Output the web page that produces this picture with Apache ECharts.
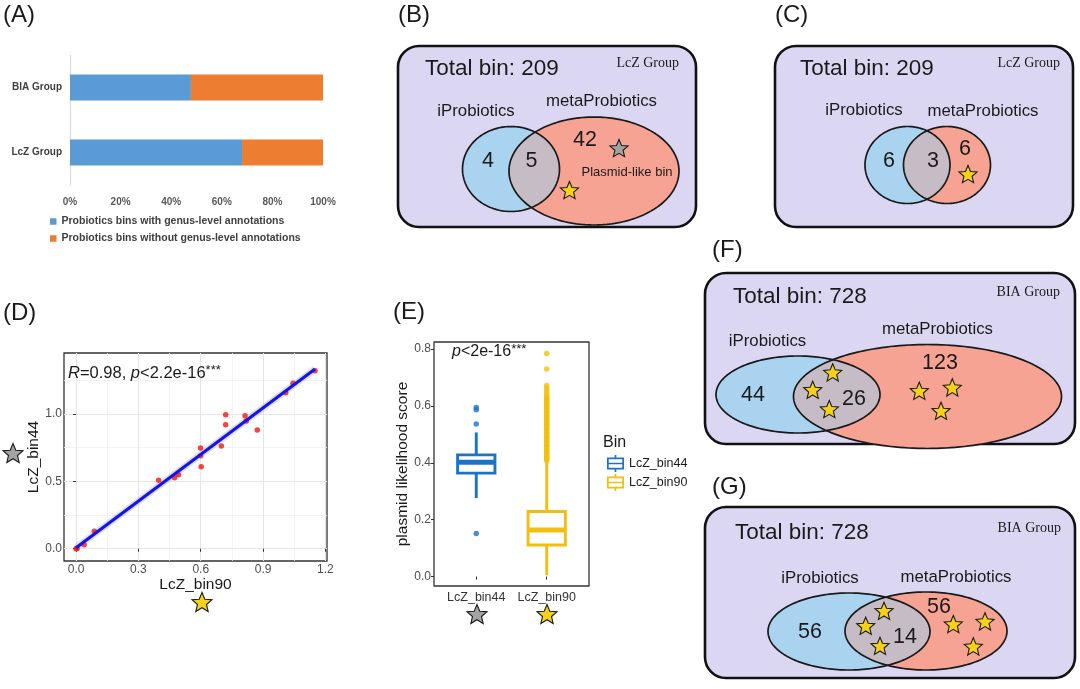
<!DOCTYPE html>
<html><head><meta charset="utf-8">
<script src="https://cdn.jsdelivr.net/npm/echarts@6/dist/echarts.min.js"></script>
<style>html,body{margin:0;padding:0;background:#fff}#c{width:1080px;height:689px}</style>
</head><body><div id="c"></div>
<script>
// ---------- Panel A data ----------
const groupsA = ['LcZ Group', 'BIA Group'];
const withGenus = [68.0, 47.8];
const withoutGenus = [32.0, 52.2];
const legendA = ['Probiotics bins with genus-level annotations', 'Probiotics bins without genus-level annotations'];

// ---------- Panel D data ----------
const bin90 = [0.000, 0.005, 0.039, 0.088, 0.397, 0.474, 0.493, 0.599, 0.600, 0.602, 0.699, 0.720, 0.720, 0.813, 0.819, 0.872, 1.009, 1.044, 1.150];
const bin44 = [0.000, 0.002, 0.030, 0.129, 0.508, 0.527, 0.549, 0.748, 0.690, 0.609, 0.762, 0.995, 0.921, 0.987, 0.948, 0.881, 1.158, 1.228, 1.321];
const dXTicks = [0, 0.3, 0.6, 0.9, 1.2];
const dYTicks = [0, 0.5, 1.0];

// ---------- Panel E data ----------
const boxCats = ['LcZ_bin44', 'LcZ_bin90'];
const box44 = [0.276, 0.364, 0.402, 0.428, 0.507];   // low, Q1, median, Q3, high
const box90 = [0.005, 0.111, 0.164, 0.229, 0.405];
const out44 = [0.595, 0.587, 0.537, 0.152];
const out90 = [0.408, 0.412, 0.418, 0.421, 0.427, 0.433, 0.436, 0.442, 0.447, 0.452, 0.458, 0.461, 0.467, 0.473, 0.476, 0.482, 0.488, 0.491, 0.497, 0.503, 0.506, 0.512, 0.518, 0.521, 0.527, 0.532, 0.536, 0.542, 0.547, 0.551, 0.557, 0.562, 0.566, 0.572, 0.577, 0.581, 0.587, 0.592, 0.596, 0.602, 0.607, 0.611, 0.617, 0.622, 0.626, 0.631, 0.636, 0.645, 0.655, 0.663, 0.672, 0.730, 0.785];
const eYTicks = [0, 0.2, 0.4, 0.6, 0.8];

// ---------- Venn data: [iProbiotics only, shared, metaProbiotics only] ----------
const vennB = [4, 5, 42];
const vennC = [6, 3, 6];
const vennF = [44, 26, 123];
const vennG = [56, 14, 56];
const totalBins = [209, 209, 728, 728];
const vennGroups = ['LcZ Group', 'LcZ Group', 'BIA Group', 'BIA Group'];

const SANS = 'Liberation Sans, Arial, sans-serif';
const SERIF = 'Liberation Serif, Times New Roman, serif';
const C44 = '#1c73c4', C90 = '#f0bf10';

// ---------- helpers ----------
const G = [];
function txt(x, y, text, o) {
  o = o || {};
  G.push({
    type: 'text', x: x, y: y, z: o.z || 10,
    style: {
      text: text, fill: o.fill || '#1a1a1a',
      fontSize: o.size || 16, fontFamily: o.family || SANS, fontWeight: o.weight || 'normal',
      align: o.align || 'left', textAlign: o.align || 'left',
      verticalAlign: 'middle', textVerticalAlign: 'middle', rich: o.rich
    }
  });
}
function ellPts(e, n) {
  n = n || 180; const p = [];
  for (let k = 0; k < n; k++) { const a = 2 * Math.PI * k / n; p.push([e.cx + e.rx * Math.cos(a), e.cy + e.ry * Math.sin(a)]); }
  return p;
}
function inside(p, e) { const dx = (p[0] - e.cx) / e.rx, dy = (p[1] - e.cy) / e.ry; return dx * dx + dy * dy <= 1; }
function interPts(e1, e2) {
  const pts = ellPts(e1, 360).filter(p => inside(p, e2)).concat(ellPts(e2, 360).filter(p => inside(p, e1)));
  let mx = 0, my = 0; pts.forEach(p => { mx += p[0]; my += p[1]; }); mx /= pts.length; my /= pts.length;
  pts.sort((a, b) => Math.atan2(a[1] - my, a[0] - mx) - Math.atan2(b[1] - my, b[0] - mx));
  return pts;
}
function star(cx, cy, R, fill) {
  const p = [];
  for (let k = 0; k < 10; k++) { const a = -Math.PI / 2 + k * Math.PI / 5; const r = k % 2 ? R * 0.45 : R; p.push([cx + r * Math.cos(a), cy + r * Math.sin(a)]); }
  G.push({ type: 'polygon', z: 12, shape: { points: p }, style: { fill: fill, stroke: '#1a1a1a', lineWidth: 1.1 } });
}
function venn(idx, counts, L) {
  const b = L.box;
  G.push({ type: 'rect', z: 1, shape: { x: b[0], y: b[1], width: b[2], height: b[3], r: 21 }, style: { fill: '#dbd7f3', stroke: '#111', lineWidth: 2.6 } });
  txt(L.total[0], L.total[1], 'Total bin: ' + totalBins[idx], { size: 22.5 });
  txt(L.group[0], L.group[1], vennGroups[idx], { size: 14, family: SERIF, align: 'right' });
  txt(L.iName[0], L.iName[1], 'iProbiotics', { size: 16.8, align: 'center' });
  txt(L.mName[0], L.mName[1], 'metaProbiotics', { size: 16.8, align: 'center' });
  const e1 = L.blue, e2 = L.red;
  G.push({ type: 'polygon', z: 2, shape: { points: ellPts(e1) }, style: { fill: '#a9d3ef' } });
  G.push({ type: 'polygon', z: 3, shape: { points: ellPts(e2) }, style: { fill: '#f7a394' } });
  G.push({ type: 'polygon', z: 4, shape: { points: interPts(e1, e2) }, style: { fill: '#c5bcc6' } });
  G.push({ type: 'polygon', z: 5, shape: { points: ellPts(e1) }, style: { fill: null, stroke: '#1a1a1a', lineWidth: 1.7 } });
  G.push({ type: 'polygon', z: 5, shape: { points: ellPts(e2) }, style: { fill: null, stroke: '#1a1a1a', lineWidth: 1.7 } });
  txt(L.n[0][0], L.n[0][1], String(counts[0]), { size: 21.5, align: 'center' });
  txt(L.n[1][0], L.n[1][1], String(counts[1]), { size: 21.5, align: 'center' });
  txt(L.n[2][0], L.n[2][1], String(counts[2]), { size: 21.5, align: 'center' });
  (L.stars || []).forEach(s => star(s[0], s[1], 9.5, s[2] || '#f7d117'));
}

// panel letters
txt(3, 15, '(A)', { size: 24 });
txt(398, 15, '(B)', { size: 24 });
txt(775, 15, '(C)', { size: 24 });
txt(3, 313, '(D)', { size: 24 });
txt(393, 312, '(E)', { size: 24 });
txt(712, 250, '(F)', { size: 24 });
txt(712, 487, '(G)', { size: 24 });

// Venn panels
venn(0, vennB, {
  box: [398, 46, 298, 181], total: [425, 69], group: [679, 63], iName: [476, 111.5], mName: [601.5, 101],
  blue: { cx: 511, cy: 169, rx: 48.5, ry: 42.5 }, red: { cx: 594, cy: 171, rx: 85, ry: 54 },
  n: [[488, 161], [531.5, 161], [585, 140]],
  stars: [[619, 149, '#a3a3a3'], [569.5, 191]]
});
txt(627, 172, 'Plasmid-like bin', { size: 13, align: 'center', z: 11 });
venn(1, vennC, {
  box: [775, 46, 298, 181], total: [800, 69], group: [1060, 63], iName: [864, 110], mName: [983, 111.5],
  blue: { cx: 907.5, cy: 165, rx: 42.5, ry: 38.5 }, red: { cx: 947, cy: 165, rx: 43.5, ry: 38.5 },
  n: [[889, 161], [933, 161], [965, 149]],
  stars: [[968, 175]]
});
venn(2, vennF, {
  box: [705, 273, 370, 171], total: [733, 297], group: [1060, 292], iName: [767.5, 341.5], mName: [937.5, 329],
  blue: { cx: 798, cy: 394.5, rx: 82, ry: 38.5 }, red: { cx: 927.5, cy: 396.5, rx: 134, ry: 52 },
  n: [[753, 395], [854, 399], [940, 363]],
  stars: [[832.7, 373.3], [812.7, 390.7], [829.3, 410], [919.3, 391.7], [952.3, 388.3], [941, 411.7]]
});
venn(3, vennG, {
  box: [705, 507, 370, 171], total: [735, 533], group: [1061, 528], iName: [820, 578], mName: [956, 577],
  blue: { cx: 849, cy: 631.5, rx: 81, ry: 38.5 }, red: { cx: 926, cy: 631, rx: 81, ry: 39 },
  n: [[810, 632], [905, 637], [939, 607]],
  stars: [[884, 611.7], [865.7, 626.7], [880, 646.7], [953.3, 625], [985, 622.3], [973.3, 647.3]]
});

// D / E annotations
txt(68, 373, '{i|R}=0.98, {i|p}<2.2e-16{s|***}', {
  size: 16.5, rich: { i: { fontStyle: 'italic', fontSize: 16.5, fontFamily: SANS, fill: '#1a1a1a' }, s: { fontSize: 13, fontFamily: SANS, fill: '#1a1a1a', padding: [0, 0, 6, 0] } }
});
txt(452, 352, '{i|p}<2e-16{s|***}', {
  size: 16, rich: { i: { fontStyle: 'italic', fontSize: 16, fontFamily: SANS, fill: '#1a1a1a' }, s: { fontSize: 13, fontFamily: SANS, fill: '#1a1a1a', padding: [0, 0, 6, 0] } }
});
star(13, 454, 10.5, '#a3a3a3');
star(202, 603, 10.5, '#f7d117');
star(477, 615, 10.5, '#a3a3a3');
star(547, 615, 10.5, '#f7d117');
txt(603, 443, 'Bin', { size: 16 });

// ---------- regression for D ----------
function fit(xs, ys) {
  const n = xs.length; let mx = 0, my = 0; for (let i = 0; i < n; i++) { mx += xs[i]; my += ys[i]; } mx /= n; my /= n;
  let sxy = 0, sxx = 0; for (let i = 0; i < n; i++) { sxy += (xs[i] - mx) * (ys[i] - my); sxx += (xs[i] - mx) * (xs[i] - mx); }
  const b = sxy / sxx; return [my - b * mx, b];
}
const ab = fit(bin90, bin44);
const xLo = Math.min.apply(null, bin90), xHi = Math.max.apply(null, bin90);
const fitLine = [[xLo, ab[0] + ab[1] * xLo], [xHi, ab[0] + ab[1] * xHi]];

const BOXW = 0.53;
function boxRender(color) {
  return function (params, api) {
    const x = api.value(0);
    const lo = api.coord([x, api.value(1)]), q1 = api.coord([x, api.value(2)]), md = api.coord([x, api.value(3)]),
      q3 = api.coord([x, api.value(4)]), hi = api.coord([x, api.value(5)]);
    const w = api.size([BOXW, 0])[0]; const cx = lo[0];
    return {
      type: 'group', children: [
        { type: 'line', shape: { x1: cx, y1: lo[1], x2: cx, y2: q1[1] }, style: { stroke: color, lineWidth: 2.9 } },
        { type: 'line', shape: { x1: cx, y1: q3[1], x2: cx, y2: hi[1] }, style: { stroke: color, lineWidth: 2.9 } },
        { type: 'rect', shape: { x: cx - w / 2, y: q3[1], width: w, height: q1[1] - q3[1] }, style: { fill: '#fff', stroke: color, lineWidth: 2.9 } },
        { type: 'line', shape: { x1: cx - w / 2, y1: md[1], x2: cx + w / 2, y2: md[1] }, style: { stroke: color, lineWidth: 5 } }
      ]
    };
  };
}
const boxIcon = 'path://M9,0H11V3H20V17H11V20H9V17H0V3H9Z M2,5V9H18V5Z M2,11V15H18V11Z';

const axisTxt = { color: '#4d4d4d', fontSize: 12, fontFamily: SANS };
const option = {
  animation: false,
  backgroundColor: '#fff',
  textStyle: { fontFamily: SANS },
  graphic: { elements: G },
  legend: [
    {
      left: 50, top: 216, orient: 'vertical', itemWidth: 6.5, itemHeight: 6.5, itemGap: 6, padding: 0, icon: 'rect',
      textStyle: { fontSize: 10.5, fontWeight: 'bold', color: '#404040', fontFamily: SANS },
      data: legendA, selectedMode: false
    },
    {
      left: 607, top: 455, orient: 'vertical', itemWidth: 17, itemHeight: 17, itemGap: 2, padding: 0,
      textStyle: { fontSize: 12.5, color: '#1a1a1a', fontFamily: SANS },
      data: [{ name: boxCats[0], icon: boxIcon }, { name: boxCats[1], icon: boxIcon }], selectedMode: false
    }
  ],
  grid: [
    { left: 70, top: 55, width: 253, height: 130 },
    { left: 64, top: 353, width: 263, height: 208, show: true, backgroundColor: '#fff', borderColor: '#333', borderWidth: 1.3 },
    { left: 434, top: 342, width: 155, height: 244, show: true, backgroundColor: '#fff', borderColor: '#333', borderWidth: 1.3 }
  ],
  xAxis: [
    { gridIndex: 0, type: 'value', min: 0, max: 100, interval: 20, axisLine: { show: false }, axisTick: { show: false }, splitLine: { show: false },
      axisLabel: { formatter: '{value}%', color: '#595959', fontSize: 10, fontWeight: 'bold', margin: 12 } },
    { gridIndex: 1, type: 'value', min: -0.058, max: 1.2075, axisLine: { show: false },
      axisTick: { show: true, length: 3, customValues: dXTicks, lineStyle: { color: '#333' } },
      axisLabel: { customValues: dXTicks, formatter: v => v.toFixed(1), margin: 3, ...axisTxt },
      splitLine: { show: true, lineStyle: { color: '#e6e6e6', width: 1.1 } },
      name: 'LcZ_bin90', nameLocation: 'middle', nameGap: 12, nameTextStyle: { fontSize: 15.5, color: '#1a1a1a', fontFamily: SANS } },
    { gridIndex: 1, type: 'value', min: -0.058, max: 1.2075, position: 'bottom', axisLine: { show: false }, axisLabel: { show: false },
      axisTick: { show: false, customValues: [0.15, 0.45, 0.75, 1.05] }, splitLine: { show: true, lineStyle: { color: '#f0f0f0', width: 0.8 } } },
    { gridIndex: 2, type: 'value', min: 0.4, max: 2.6, axisLine: { show: false },
      axisTick: { show: true, length: 3, customValues: [1, 2], lineStyle: { color: '#333' } },
      axisLabel: { customValues: [1, 2], formatter: v => boxCats[Math.round(v) - 1], margin: 5, color: '#333', fontSize: 12.5, fontFamily: SANS },
      splitLine: { show: false } }
  ],
  yAxis: [
    { gridIndex: 0, type: 'category', data: groupsA, axisLine: { show: true, lineStyle: { color: '#d9d9d9', width: 1.2 } }, axisTick: { show: false },
      axisLabel: { color: '#404040', fontSize: 10, fontWeight: 'bold', margin: 8 } },
    { gridIndex: 1, type: 'value', min: -0.091, max: 1.453, axisLine: { show: false },
      axisTick: { show: true, length: 3, customValues: dYTicks, lineStyle: { color: '#333' } },
      axisLabel: { customValues: dYTicks, formatter: v => v.toFixed(1), margin: 2, ...axisTxt },
      splitLine: { show: true, lineStyle: { color: '#e6e6e6', width: 1.1 } },
      name: 'LcZ_bin44', nameLocation: 'middle', nameGap: 17, nameTextStyle: { fontSize: 15.5, color: '#1a1a1a', fontFamily: SANS } },
    { gridIndex: 1, type: 'value', min: -0.091, max: 1.453, position: 'left', axisLine: { show: false }, axisLabel: { show: false },
      axisTick: { show: false, customValues: [0.25, 0.75, 1.25] }, splitLine: { show: true, lineStyle: { color: '#f0f0f0', width: 0.8 } } },
    { gridIndex: 2, type: 'value', min: -0.033, max: 0.825, axisLine: { show: false },
      axisTick: { show: true, length: 3, customValues: eYTicks, lineStyle: { color: '#333' } },
      axisLabel: { customValues: eYTicks, formatter: v => v.toFixed(1), margin: 3, ...axisTxt },
      splitLine: { show: false },
      name: 'plasmid likelihood score', nameLocation: 'middle', nameGap: 21, nameTextStyle: { fontSize: 15.5, color: '#1a1a1a', fontFamily: SANS } }
  ],
  series: [
    { name: legendA[0], type: 'bar', xAxisIndex: 0, yAxisIndex: 0, stack: 'a', barWidth: 26, data: withGenus, itemStyle: { color: '#5b9bd5' } },
    { name: legendA[1], type: 'bar', xAxisIndex: 0, yAxisIndex: 0, stack: 'a', barWidth: 26, data: withoutGenus, itemStyle: { color: '#ed7d31' } },
    { name: 'fit', type: 'line', xAxisIndex: 1, yAxisIndex: 1, data: fitLine, symbol: 'none', z: 3,
      lineStyle: { color: 'rgba(170,170,170,0.35)', width: 7 } },
    { name: 'points', type: 'scatter', xAxisIndex: 1, yAxisIndex: 1, data: bin90.map((x, i) => [x, bin44[i]]), symbolSize: 5.5, z: 4,
      itemStyle: { color: '#f41414' } },
    { name: 'fitline', type: 'line', xAxisIndex: 1, yAxisIndex: 1, data: fitLine, symbol: 'none', z: 5,
      lineStyle: { color: '#1414f0', width: 3.2 } },
    { name: boxCats[0], type: 'custom', xAxisIndex: 3, yAxisIndex: 3, renderItem: boxRender(C44), itemStyle: { color: C44 },
      data: [[1].concat(box44)], encode: { x: 0, y: [1, 2, 3, 4, 5] } },
    { name: boxCats[1], type: 'custom', xAxisIndex: 3, yAxisIndex: 3, renderItem: boxRender(C90), itemStyle: { color: C90 },
      data: [[2].concat(box90)], encode: { x: 0, y: [1, 2, 3, 4, 5] } },
    { name: 'out44', type: 'scatter', xAxisIndex: 3, yAxisIndex: 3, data: out44.map(v => [1, v]), symbolSize: 5.5, itemStyle: { color: C44 } },
    { name: 'out90', type: 'scatter', xAxisIndex: 3, yAxisIndex: 3, data: out90.map(v => [2, v]), symbolSize: 5.5, itemStyle: { color: C90 } }
  ]
};
const chart = echarts.init(document.getElementById('c'));
chart.setOption(option);
</script>
</body></html>
